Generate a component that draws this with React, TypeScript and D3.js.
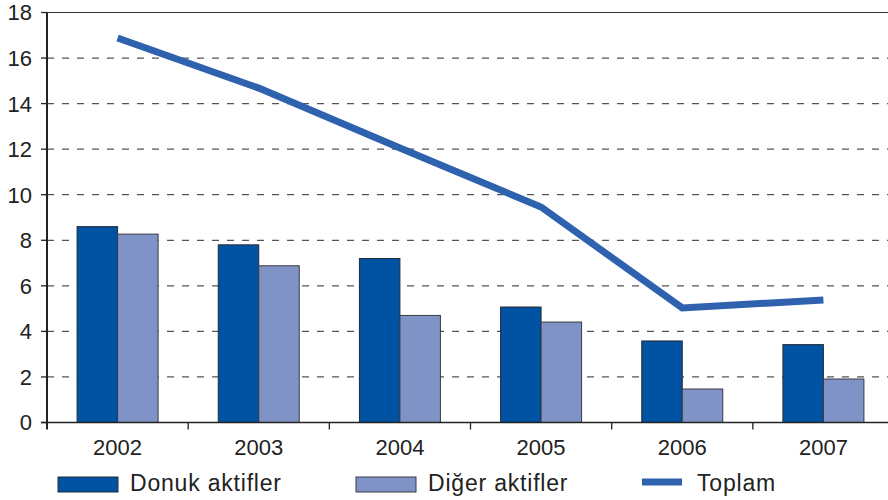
import React from "react";
import * as d3 from "d3";

const years = ["2002", "2003", "2004", "2005", "2006", "2007"];
const donuk = [8.6, 7.8, 7.2, 5.07, 3.58, 3.42];
const diger = [8.27, 6.88, 4.7, 4.41, 1.47, 1.91];
const toplam = [16.88, 14.68, 12.05, 9.46, 5.03, 5.38];
const yTicks = [0, 2, 4, 6, 8, 10, 12, 14, 16, 18];
const seriesNames = ["Donuk aktifler", "Diğer aktifler", "Toplam"];

const W = 888;
const H = 500;
const left = 47;
const right = 894;
const top = 12.5;
const bottom = 422.5;
const font = "'Liberation Sans', Arial, Helvetica, sans-serif";
const cDark = "#0052a2";
const cLight = "#7f93c7";
const cLine = "#2f62ae";

export default function App() {
  const x = d3.scaleBand<string>().domain(years).range([left, right]).paddingInner(0).paddingOuter(0);
  const y = d3.scaleLinear().domain([0, 18]).range([bottom, top]);
  const bw = x.bandwidth();
  const groupW = 81;
  const sub = d3.scaleBand<string>().domain(["d", "o"]).range([0, groupW]);
  const off = (bw - groupW) / 2;
  const lineGen = d3
    .line<number>()
    .x((_, i) => (x(years[i]) as number) + bw / 2)
    .y((v) => y(v));

  return (
    <svg width={W} height={H} style={{ position: "absolute", left: 0, top: 0, background: "#fff" }}>
      {/* grid */}
      {yTicks.filter((t) => t > 0 && t < 18).map((t) => (
        <line key={"g" + t} x1={left} x2={W} y1={y(t)} y2={y(t)} stroke="#555" strokeWidth={1.3} strokeDasharray="7,8" />
      ))}
      {/* top frame line */}
      <line x1={left} x2={W} y1={y(18)} y2={y(18)} stroke="#333" strokeWidth={1.2} />
      {/* bars */}
      {years.map((yr, i) => {
        const x0 = (x(yr) as number) + off;
        return (
          <g key={yr}>
            <rect x={x0 + (sub("d") as number)} y={y(donuk[i])} width={sub.bandwidth()} height={bottom - y(donuk[i])} fill={cDark} stroke="#2a2a33" strokeWidth={1} />
            <rect x={x0 + (sub("o") as number)} y={y(diger[i])} width={sub.bandwidth()} height={bottom - y(diger[i])} fill={cLight} stroke="#3a3a44" strokeWidth={1} />
          </g>
        );
      })}
      {/* line */}
      <path d={lineGen(toplam) || ""} fill="none" stroke={cLine} strokeWidth={7} strokeLinejoin="miter" />
      {/* axes */}
      <line x1={left} x2={left} y1={top - 0.5} y2={bottom + 7} stroke="#222" strokeWidth={2} />
      <line x1={left - 6} x2={W} y1={bottom} y2={bottom} stroke="#222" strokeWidth={1.5} />
      {yTicks.map((t) => (
        <g key={"yt" + t}>
          <line x1={left - 6} x2={left} y1={y(t)} y2={y(t)} stroke="#222" strokeWidth={1.3} />
          <text x={32} y={y(t)} dy="0.36em" textAnchor="end" fontFamily={font} fontSize={22} fill="#222">{t}</text>
        </g>
      ))}
      {years.map((yr) => (
        <g key={"xt" + yr}>
          {yr !== years[0] && (
            <line x1={x(yr) as number} x2={x(yr) as number} y1={bottom} y2={bottom + 7} stroke="#222" strokeWidth={1.3} />
          )}
          <text x={(x(yr) as number) + bw / 2} y={447} dy="0.36em" textAnchor="middle" fontFamily={font} fontSize={22} fill="#222">{yr}</text>
        </g>
      ))}
      {/* legend */}
      <rect x={58} y={477} width={60} height={15} fill={cDark} stroke="#2a2a33" strokeWidth={1} />
      <text x={130} y={482.5} dy="0.36em" fontFamily={font} fontSize={23} letterSpacing={0.8} fill="#222">{seriesNames[0]}</text>
      <rect x={356} y={477} width={60} height={15} fill={cLight} stroke="#3a3a44" strokeWidth={1} />
      <text x={428} y={482.5} dy="0.36em" fontFamily={font} fontSize={23} letterSpacing={0.8} fill="#222">{seriesNames[1]}</text>
      <line x1={642} x2={682} y1={482} y2={482} stroke={cLine} strokeWidth={7} />
      <text x={697} y={482.5} dy="0.36em" fontFamily={font} fontSize={23} letterSpacing={0.8} fill="#222">{seriesNames[2]}</text>
    </svg>
  );
}
